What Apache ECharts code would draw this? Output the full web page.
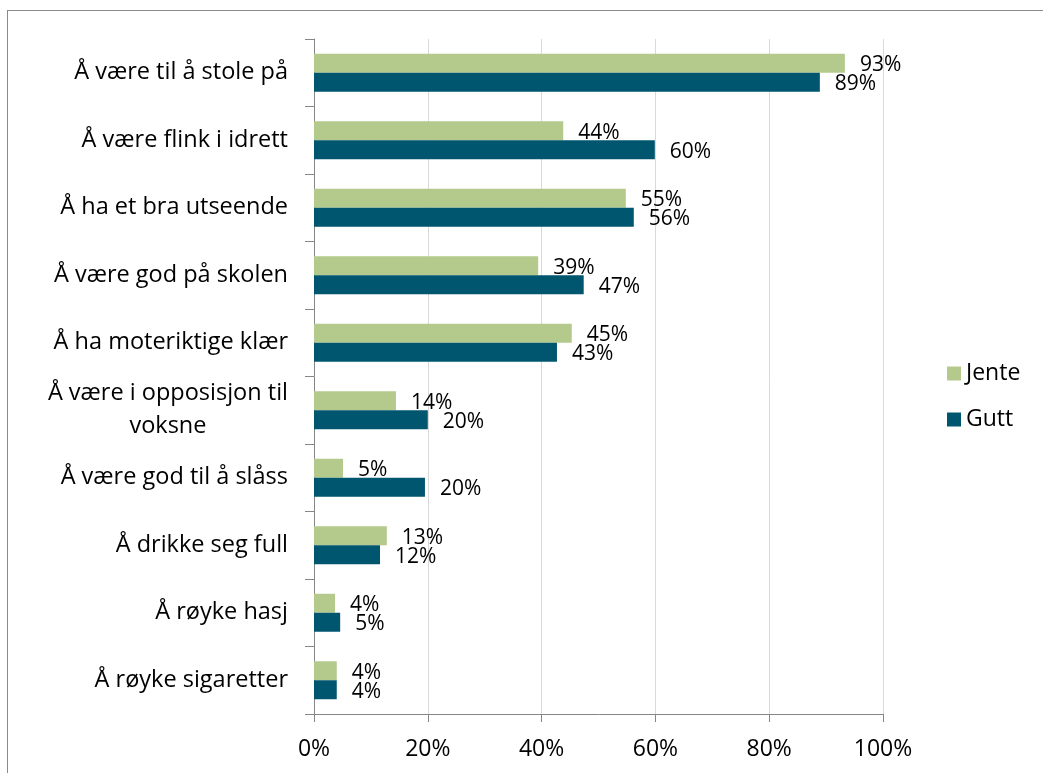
<!DOCTYPE html>
<html>
<head>
<meta charset="utf-8">
<script src="https://cdn.jsdelivr.net/npm/echarts@6/dist/echarts.min.js"></script>
<style>
  html, body { margin: 0; padding: 0; background: #fff; }
  #wrap { position: relative; width: 1043px; height: 773px; overflow: hidden; }
  #frame { position: absolute; left: 7px; top: 10px; width: 1100px; height: 800px; border: 1px solid #8a8a8a; box-sizing: border-box; }
  #chart { position: absolute; left: 0; top: 0; width: 1043px; height: 773px; }
</style>
</head>
<body>
<div id="wrap">
  <div id="frame"></div>
  <div id="chart"></div>
</div>
<script>
// Survey items, listed top to bottom
const categories = [
  'Å være til å stole på',
  'Å være flink i idrett',
  'Å ha et bra utseende',
  'Å være god på skolen',
  'Å ha moteriktige klær',
  'Å være i opposisjon til\nvoksne',
  'Å være god til å slåss',
  'Å drikke seg full',
  'Å røyke hasj',
  'Å røyke sigaretter'
];
// Share (%) per group
const jente = [93.3, 43.8, 54.8, 39.4, 45.3, 14.4, 5.1, 12.8, 3.7, 4.0];
const gutt  = [88.9, 59.9, 56.2, 47.4, 42.7, 20.0, 19.5, 11.6, 4.6, 4.0];
const xTicks = [0, 20, 40, 60, 80, 100];

const FONT = 'Open Sans';
const chart = echarts.init(document.getElementById('chart'), null, { renderer: 'canvas' });

const barLabel = {
  show: true,
  position: 'right',
  distance: 15,
  offset: [0, 2],
  fontFamily: FONT,
  fontSize: 21,
  color: '#000',
  formatter: p => Math.round(p.value) + '%'
};

chart.setOption({
  animation: false,
  textStyle: { fontFamily: FONT },
  grid: { left: 314, right: 160, top: 39, bottom: 59, containLabel: false },
  legend: {
    orient: 'vertical',
    left: 942,
    top: 357,
    icon: 'rect',
    itemWidth: 14,
    itemHeight: 14,
    itemGap: 23,
    textStyle: { fontFamily: FONT, fontSize: 23, color: '#000' },
    data: ['Jente', 'Gutt']
  },
  xAxis: {
    type: 'value',
    min: xTicks[0],
    max: xTicks[xTicks.length - 1],
    interval: 20,
    axisLine: { show: true, lineStyle: { color: '#868686', width: 1 } },
    axisTick: { show: true, length: 8, lineStyle: { color: '#868686' } },
    splitLine: { show: true, lineStyle: { color: '#d9d9d9', width: 1 } },
    axisLabel: {
      margin: 24,
      fontFamily: FONT,
      fontSize: 23,
      color: '#000',
      formatter: v => v + '%'
    }
  },
  yAxis: {
    type: 'category',
    inverse: true,
    data: categories,
    axisLine: { show: true, lineStyle: { color: '#868686', width: 1 } },
    axisTick: { show: true, length: 9, alignWithLabel: false, lineStyle: { color: '#868686' } },
    splitLine: { show: false },
    axisLabel: {
      margin: 26,
      fontFamily: FONT,
      fontSize: 23.5,
      lineHeight: 33,
      color: '#000',
      formatter: v => v.indexOf('\n') >= 0
        ? v.split('\n').map(s => '{c|' + s + '}').join('\n')
        : v,
      rich: {
        c: { align: 'center', fontFamily: FONT, fontSize: 23.5, lineHeight: 33, color: '#000' }
      }
    }
  },
  series: [
    {
      name: 'Jente',
      type: 'bar',
      data: jente,
      barWidth: 19,
      barGap: '0%',
      itemStyle: { color: '#b3ca8c' },
      label: barLabel
    },
    {
      name: 'Gutt',
      type: 'bar',
      data: gutt,
      barWidth: 19,
      barGap: '0%',
      itemStyle: { color: '#01566f' },
      label: barLabel
    }
  ]
});
</script>
</body>
</html>
